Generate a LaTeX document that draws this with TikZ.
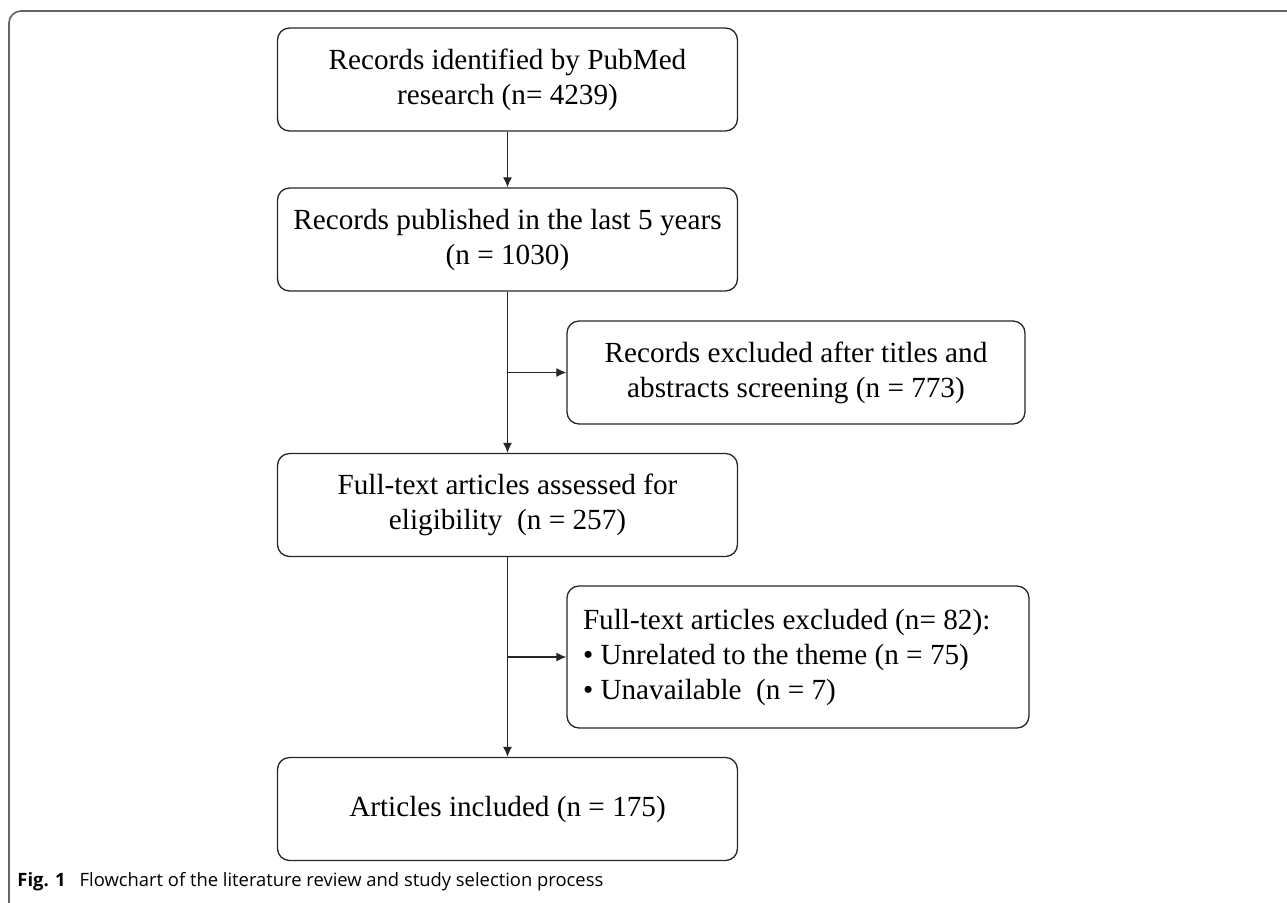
\documentclass[tikz,border=0pt]{standalone}
\usepackage{fontspec}
\setmainfont{Liberation Serif}
\newfontfamily\capfont{Open Sans}
\usetikzlibrary{arrows.meta}
\colorlet{frx}{black!60}
\colorlet{lnx}{black!85}
\tikzset{
    mainb/.style={draw=lnx,line width=0.65pt,rounded corners=6pt,fill=white,inner sep=0pt,
        minimum width=230pt,minimum height=51.5pt,align=center,font=\fontsize{14.6}{17.5}\selectfont},
    sideb/.style={mainb,minimum width=229pt},
    listb/.style={mainb,align=flush left,text width=215pt,inner xsep=8pt,minimum height=71pt},
    arr/.style={lnx,line width=0.6pt,-{Latex[length=5pt,width=4.5pt]}},
    capt/.style={inner sep=0pt,font=\capfont\fontsize{9.2}{10}\selectfont}
}

\begin{document}
\begin{tikzpicture}[x=0.5pt,y=-0.5pt]
            \useasboundingbox (0,0) rectangle (1287,902);
            \clip (0,0) rectangle (1287,902);
            \draw [frx,line width=0.85pt,rounded corners=6pt] (9,940) -- (9,11) -- (1310,11);
            \node [mainb] (rec) at (507.5,79.5) {Records identified by PubMed\\research (n= 4239)};
            \node [mainb] (pub) at (507.5,239.5) {Records published in the last 5 years\\(n = 1030)};
            \node [sideb] (scr) at (796,372.5) {Records excluded after titles and\\abstracts screening (n = 773)};
            \node [mainb] (full) at (507.5,505) {Full-text articles assessed for\\eligibility\ \ (n = 257)};
            \node [listb] (exc) at (798,657) {Full-text articles excluded (n= 82):\\
                \textbullet\ Unrelated to the theme (n = 75)\\
                \textbullet\ Unavailable\ \ (n = 7)};
            \node [mainb] (incl) at (507.5,809) {Articles included (n = 175)};
            \draw [arr] (rec) -- (pub);
            \draw [arr] (pub) -- (full);
            \draw [arr] (scr.west -| pub.south) -- (scr.west);
            \draw [arr] (full) -- (incl);
            \draw [arr] (exc.west -| full.south) -- (exc.west);
            \node [capt,anchor=base west] (cap) at (17,886)
                {\textbf{Fig. 1}\hspace{7pt}Flowchart of the literature review and study selection process};
        \end{tikzpicture}
\end{document}
